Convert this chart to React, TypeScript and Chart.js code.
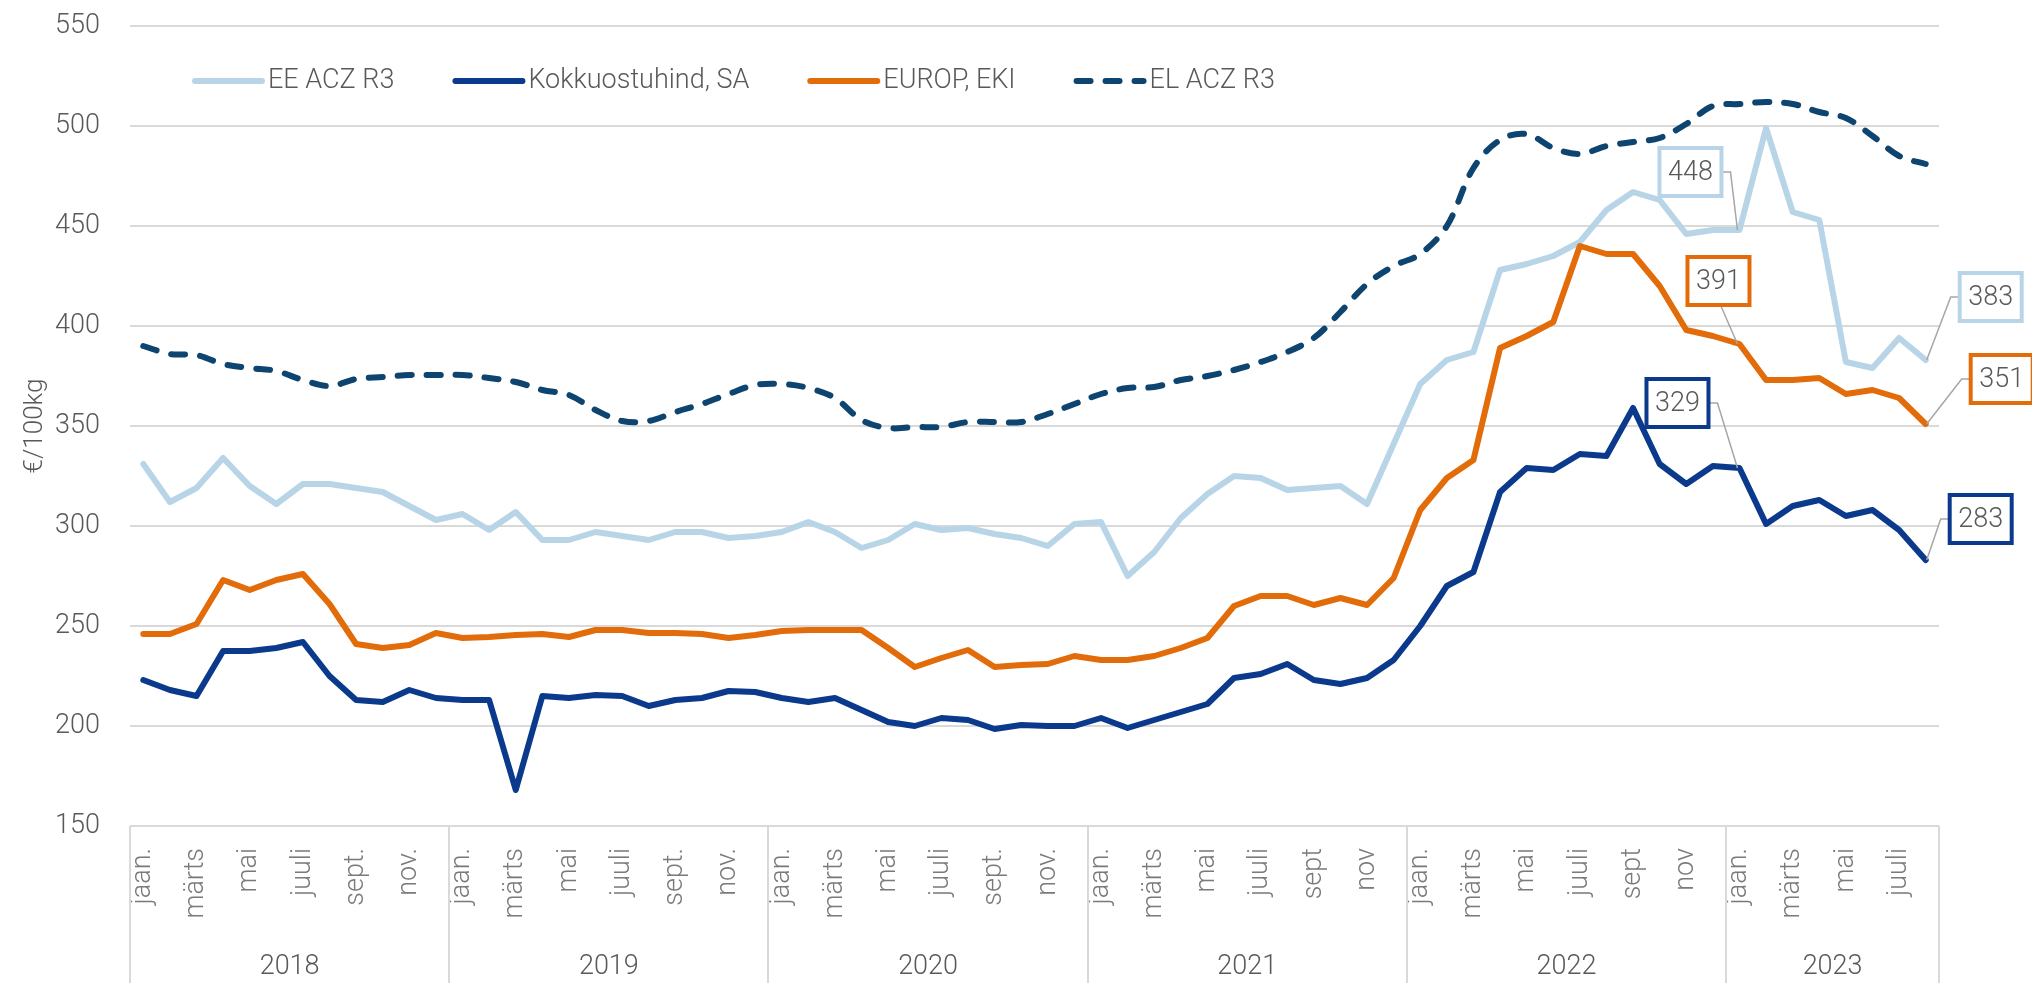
import React, { useEffect, useRef } from 'react';
import { Chart, registerables } from 'chart.js';

Chart.register(...registerables);

const years = ['2018', '2019', '2020', '2021', '2022', '2023'];
const yearMonthCounts = [12, 12, 12, 12, 12, 8];

const monthLabels = [
  'jaan.', 'veebr.', 'märts', 'apr.', 'mai', 'juuni', 'juuli', 'aug.', 'sept.', 'okt.', 'nov.', 'dets.',
  'jaan.', 'veebr.', 'märts', 'apr.', 'mai', 'juuni', 'juuli', 'aug.', 'sept.', 'okt.', 'nov.', 'dets.',
  'jaan.', 'veebr.', 'märts', 'apr.', 'mai', 'juuni', 'juuli', 'aug.', 'sept.', 'okt.', 'nov.', 'dets.',
  'jaan.', 'veebr.', 'märts', 'apr.', 'mai', 'juuni', 'juuli', 'aug.', 'sept', 'okt.', 'nov', 'dets.',
  'jaan.', 'veebr.', 'märts', 'apr.', 'mai', 'juuni', 'juuli', 'aug.', 'sept', 'okt.', 'nov', 'dets.',
  'jaan.', 'veebr.', 'märts', 'apr.', 'mai', 'juuni', 'juuli', 'aug.',
];

const eeAczR3 = [
  331, 312, 319, 334, 320, 311, 321, 321, 319, 317, 310, 303,
  306, 298, 307, 293, 293, 297, 295, 293, 297, 297, 294, 295,
  297, 302, 297, 289, 293, 301, 298, 299, 296, 294, 290, 301,
  302, 275, 287, 304, 316, 325, 324, 318, 319, 320, 311, 341,
  371, 383, 387, 428, 431, 435, 442, 458, 467, 463, 446, 448,
  448, 499, 457, 453, 382, 379, 394, 383,
];

const kokkuostuhind = [
  223, 218, 215, 237.5, 237.5, 239, 242, 225, 213, 212, 218, 214,
  213, 213, 168, 215, 214, 215.5, 215, 210, 213, 214, 217.5, 217,
  214, 212, 214, 208, 202, 200, 204, 203, 198.5, 200.5, 200, 200,
  204, 199, 203, 207, 211, 224, 226, 231, 223, 221, 224, 233,
  250, 270, 277, 317, 329, 328, 336, 335, 359, 331, 321, 330,
  329, 301, 310, 313, 305, 308, 298, 283,
];

const europEki = [
  246, 246, 251, 273, 268, 273, 276, 261, 241, 239, 240.5, 246.5,
  244, 244.5, 245.5, 246, 244.5, 248, 248, 246.5, 246.5, 246, 244, 245.5,
  247.5, 248, 248, 248, 239, 229.5, 234, 238, 229.5, 230.5, 231, 235,
  233, 233, 235, 239, 244, 260, 265, 265, 260.5, 264, 260.5, 274,
  308, 324, 333, 389, 395, 402, 440, 436, 436, 420, 398, 395,
  391, 373, 373, 374, 366, 368, 364, 351,
];

const elAczR3 = [
  390, 386, 385.5, 381, 379, 377.5, 373, 370, 373.5, 374.5, 375.5, 375.5,
  375.5, 374, 372, 368, 365.5, 358, 352.5, 352.5, 357, 361, 366, 370.5,
  371, 369, 364, 353, 349, 349.5, 349.5, 352, 352, 352, 356, 361,
  366, 369, 369.5, 373, 375, 378, 382, 387, 394, 407, 421, 430,
  436, 450, 479, 493, 496, 489, 486, 490, 492, 494, 501, 510,
  511, 512, 511, 507, 504, 495, 485, 481,
];

const seriesNames = ['EE ACZ R3', 'Kokkuostuhind, SA', 'EUROP, EKI', 'EL ACZ R3'];
const seriesColors = ['#B8D5E8', '#0B3A8C', '#E36C0A', '#0E4470'];

// callouts: dataset index, point index
const calloutPoints = [
  { ds: 0, idx: 60 },
  { ds: 2, idx: 60 },
  { ds: 1, idx: 60 },
  { ds: 0, idx: 67 },
  { ds: 2, idx: 67 },
  { ds: 1, idx: 67 },
];
// styling of callouts (offsets of the box centre from the point, leader type)
const calloutStyle = [
  { dx: -49, dy: -58, leader: 'fromRight' },
  { dx: -21, dy: -63, leader: 'fromBottom' },
  { dx: -62, dy: -65, leader: 'fromRight' },
  { dx: 65, dy: -63, leader: 'fromLeft' },
  { dx: 76, dy: -45, leader: 'fromLeft' },
  { dx: 55, dy: -41, leader: 'fromLeft' },
];

const FONT = 'Roboto';
const TEXT = '#595959';

export default function App() {
  const ref = useRef<HTMLCanvasElement>(null);

  useEffect(() => {
    document.body.style.margin = '0';
    document.body.style.overflow = 'hidden';
    const canvas = ref.current!;

    const extras = {
      id: 'extras',
      afterDraw(chart: any) {
        const ctx = chart.ctx as CanvasRenderingContext2D;
        const ca = chart.chartArea;
        const xs = chart.scales.x;
        const n = monthLabels.length;
        ctx.save();

        // year separators and labels
        const boundary = (b: number) => {
          if (b <= 0) return ca.left;
          if (b >= n) return ca.right;
          return (xs.getPixelForValue(b - 1) + xs.getPixelForValue(b)) / 2;
        };
        ctx.strokeStyle = '#d9d9d9';
        ctx.lineWidth = 2;
        let start = 0;
        const starts: number[] = [];
        yearMonthCounts.forEach((c) => {
          starts.push(start);
          start += c;
        });
        starts.push(n);
        starts.forEach((b) => {
          const x = Math.round(boundary(b));
          ctx.beginPath();
          ctx.moveTo(x, ca.bottom);
          ctx.lineTo(x, chart.height);
          ctx.stroke();
        });
        ctx.fillStyle = TEXT;
        ctx.font = `300 27px ${FONT}`;
        ctx.textAlign = 'center';
        ctx.textBaseline = 'middle';
        years.forEach((y, k) => {
          const x0 = boundary(starts[k]);
          const x1 = boundary(starts[k + 1]);
          ctx.fillText(y, (x0 + x1) / 2, chart.height - 16);
        });

        // legend
        ctx.font = `300 27px ${FONT}`;
        ctx.textAlign = 'left';
        ctx.textBaseline = 'middle';
        let lx = ca.left + 62;
        const ly = ca.top + 55;
        seriesNames.forEach((name, k) => {
          ctx.strokeStyle = seriesColors[k];
          ctx.lineWidth = 6;
          ctx.lineCap = 'round';
          ctx.setLineDash(k === 3 ? [14, 15] : []);
          ctx.beginPath();
          ctx.moveTo(lx + 3, ly);
          ctx.lineTo(lx + 70, ly);
          ctx.stroke();
          ctx.setLineDash([]);
          ctx.fillStyle = TEXT;
          ctx.fillText(name, lx + 76, ly);
          lx += 76 + ctx.measureText(name).width + 58;
        });

        // callouts
        const bw = 62;
        const bh = 48;
        const datasets = [eeAczR3, kokkuostuhind, europEki, elAczR3];
        calloutPoints.forEach((cp, k) => {
          const st = calloutStyle[k];
          const el = chart.getDatasetMeta(cp.ds).data[cp.idx];
          const px = el.x;
          const py = el.y;
          const cx = px + st.dx;
          const cy = py + st.dy;
          ctx.strokeStyle = '#a6a6a6';
          ctx.lineWidth = 1.5;
          ctx.lineCap = 'butt';
          ctx.beginPath();
          if (st.leader === 'fromRight') {
            ctx.moveTo(cx + bw / 2, cy);
            ctx.lineTo(cx + bw / 2 + 9, cy);
            ctx.lineTo(px - 2, py);
          } else if (st.leader === 'fromLeft') {
            ctx.moveTo(cx - bw / 2, cy);
            ctx.lineTo(cx - bw / 2 - 9, cy);
            ctx.lineTo(px + 1, py);
          } else {
            ctx.moveTo(cx + 2, cy + bh / 2);
            ctx.lineTo(px - 2, py);
          }
          ctx.stroke();
          ctx.fillStyle = '#ffffff';
          ctx.fillRect(cx - bw / 2, cy - bh / 2, bw, bh);
          ctx.strokeStyle = seriesColors[cp.ds];
          ctx.lineWidth = 4;
          ctx.strokeRect(cx - bw / 2, cy - bh / 2, bw, bh);
          ctx.fillStyle = TEXT;
          ctx.font = `300 27px ${FONT}`;
          ctx.textAlign = 'center';
          ctx.textBaseline = 'middle';
          ctx.fillText(String(Math.round(datasets[cp.ds][cp.idx])), cx, cy + 1);
        });
        ctx.restore();
      },
    };

    const lineBase = {
      borderWidth: 6,
      pointRadius: 0,
      borderJoinStyle: 'round',
      borderCapStyle: 'round',
    };

    const chart = new Chart(canvas, {
      type: 'line',
      data: {
        labels: monthLabels,
        datasets: [
          { ...lineBase, label: seriesNames[0], data: eeAczR3, borderColor: seriesColors[0], tension: 0, order: 4 },
          { ...lineBase, label: seriesNames[1], data: kokkuostuhind, borderColor: seriesColors[1], tension: 0, order: 3 },
          { ...lineBase, label: seriesNames[2], data: europEki, borderColor: seriesColors[2], tension: 0, order: 2 },
          {
            ...lineBase,
            label: seriesNames[3],
            data: elAczR3,
            borderColor: seriesColors[3],
            borderDash: [14, 15],
            tension: 0.35,
            order: 1,
          },
        ],
      },
      options: {
        responsive: false,
        animation: false,
        layout: { padding: { top: 26, right: 93, left: 0, bottom: 0 } },
        plugins: {
          legend: { display: false },
          tooltip: { enabled: false },
        },
        scales: {
          x: {
            type: 'category',
            offset: true,
            grid: { display: false, drawTicks: false },
            border: { display: false },
            ticks: {
              autoSkip: false,
              minRotation: 90,
              maxRotation: 90,
              padding: 22,
              color: '#7a7a7a',
              font: { family: FONT, size: 27, weight: '300' },
              callback: (_v: any, i: number) => (i % 2 === 0 ? monthLabels[i] : ''),
            },
            afterFit: (s: any) => {
              s.height = 157;
            },
          },
          y: {
            min: 150,
            max: 550,
            ticks: {
              stepSize: 50,
              padding: 30,
              color: TEXT,
              font: { family: FONT, size: 27, weight: '300' },
            },
            grid: { color: '#d9d9d9', lineWidth: 2, drawTicks: false },
            border: { display: false },
            title: {
              display: true,
              text: '€/100kg',
              color: TEXT,
              font: { family: FONT, size: 26, weight: '300' },
              padding: { top: 20, bottom: 0 },
            },
            afterFit: (s: any) => {
              s.width = 130;
              s.paddingTop = 16;
              s.paddingBottom = 16;
            },
          },
        },
      },
      plugins: [extras],
    } as any);

    return () => chart.destroy();
  }, []);

  return <canvas ref={ref} width={2032} height={983} style={{ display: 'block' }} />;
}
